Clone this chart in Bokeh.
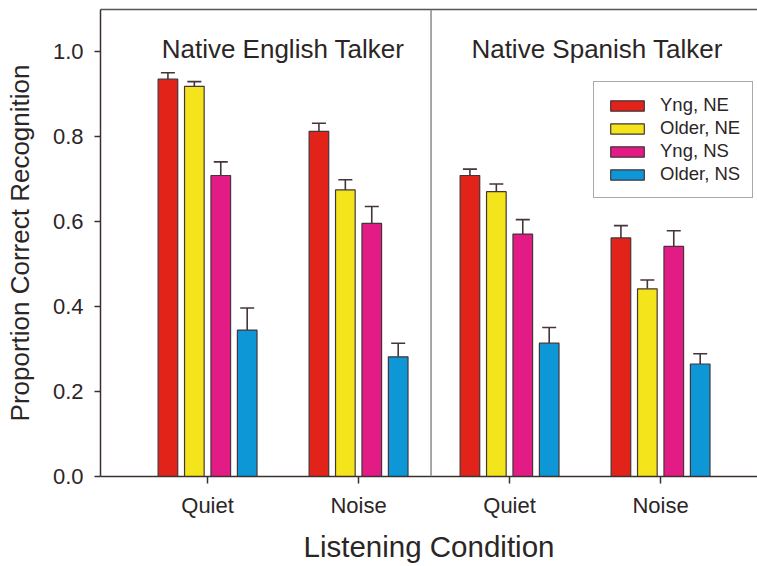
from bokeh.plotting import figure
from bokeh.models import (ColumnDataSource, FixedTicker, LinearAxis, Legend, LegendItem,
                          Label, Span, Whisker, TeeHead, Range1d)
from bokeh.embed import file_html
from bokeh.resources import INLINE

# Listening conditions, grouped by talker
talkers = ["Native English Talker", "Native Spanish Talker"]
conditions = ["Quiet", "Noise", "Quiet", "Noise"]

# Listener groups and their mean proportion correct (with upper SE)
groups = ["Yng, NE", "Older, NE", "Yng, NS", "Older, NS"]
yng_ne = [0.936, 0.813, 0.709, 0.562]
yng_ne_err = [0.015, 0.019, 0.015, 0.029]
older_ne = [0.919, 0.675, 0.671, 0.442]
older_ne_err = [0.011, 0.024, 0.018, 0.021]
yng_ns = [0.709, 0.596, 0.571, 0.542]
yng_ns_err = [0.032, 0.040, 0.034, 0.037]
older_ns = [0.345, 0.282, 0.314, 0.265]
older_ns_err = [0.052, 0.032, 0.037, 0.024]

means = [yng_ne, older_ne, yng_ns, older_ns]
errs = [yng_ne_err, older_ne_err, yng_ns_err, older_ns_err]
colors = ["#E2231A", "#F3E41C", "#E31B84", "#0D97D6"]

FONT = "Liberation Sans"
TEXT = "#2b2626"
EDGE = "#45353a"

p = figure(width=757, height=566, output_backend="svg", toolbar_location=None,
           x_range=Range1d(0.291, 4.642), y_range=Range1d(0, 1.1),
           min_border_left=100, min_border_right=0, min_border_top=9,
           min_border_bottom=90)
p.outline_line_color = None
p.grid.visible = False
p.background_fill_color = "white"
p.border_fill_color = "white"

pitch = 0.175
bar_w = 0.13
items = []
for i, (name, m, e, c) in enumerate(zip(groups, means, errs, colors)):
    xs = [k + 1 + (i - 1.5) * pitch for k in range(len(conditions))]
    src = ColumnDataSource(dict(x=xs, top=m, up=[a + b for a, b in zip(m, e)]))
    r = p.vbar(x="x", top="top", width=bar_w, source=src, fill_color=c,
               line_color=EDGE, line_width=1.2)
    p.add_layout(Whisker(base="x", lower="top", upper="up", source=src,
                         line_color=EDGE, line_width=1.6,
                         lower_head=None,
                         upper_head=TeeHead(size=14, line_color=EDGE, line_width=1.6)))
    items.append(LegendItem(label=name, renderers=[r]))

# divider between talker panels
p.add_layout(Span(location=2.48, dimension="height", line_color="#8a8a8a", line_width=1.5))

# panel headings
for t, xc in zip(talkers, [1.5, 3.58]):
    p.add_layout(Label(x=xc, y=1.007, text=t, text_align="center",
                       text_baseline="alphabetic", text_font=FONT,
                       text_font_size="26px", text_color=TEXT))

# axes
xa = p.xaxis[0]
xa.ticker = FixedTicker(ticks=[1, 2, 3, 4])
xa.major_label_overrides = {k + 1: c for k, c in enumerate(conditions)}
xa.axis_label = "Listening Condition"
ya = p.yaxis[0]
ya.ticker = FixedTicker(ticks=[0.0, 0.2, 0.4, 0.6, 0.8, 1.0])
ya.major_label_overrides = {v: f"{v:.1f}" for v in [0.0, 0.2, 0.4, 0.6, 0.8, 1.0]}
ya.axis_label = "Proportion Correct Recognition"
for ax in (xa, ya):
    ax.axis_line_color = "#3a3030"
    ax.axis_line_width = 1.5
    ax.major_tick_line_color = "#3a3030"
    ax.major_tick_line_width = 1.5
    ax.major_tick_in = 0
    ax.minor_tick_line_color = None
    ax.major_label_text_font = FONT
    ax.major_label_text_font_size = "22px"
    ax.major_label_text_color = TEXT
    ax.axis_label_text_font = FONT
    ax.axis_label_text_font_style = "normal"
    ax.axis_label_text_color = TEXT
xa.major_tick_out = 7
xa.major_label_standoff = 9
xa.axis_label_text_font_size = "29.5px"
xa.axis_label_standoff = 9
ya.major_tick_out = 6
ya.major_label_standoff = 11
ya.axis_label_text_font_size = "26px"
ya.axis_label_standoff = 15

# top frame line
top = LinearAxis(ticker=FixedTicker(ticks=[]), axis_line_color="#555555",
                 axis_line_width=1.5, major_tick_line_color=None,
                 minor_tick_line_color=None, major_label_text_font_size="0px")
p.add_layout(top, "above")

legend = Legend(items=items, location=(493, 278), label_text_font=FONT,
                label_text_font_size="18.5px", label_text_color=TEXT,
                glyph_width=42, glyph_height=13, label_height=20,
                spacing=1, padding=12, label_standoff=12, border_line_color="#555555",
                border_line_width=1.5, background_fill_alpha=1.0, margin=0)
p.add_layout(legend, "center")

open("out.html", "w").write(file_html(p, INLINE))
